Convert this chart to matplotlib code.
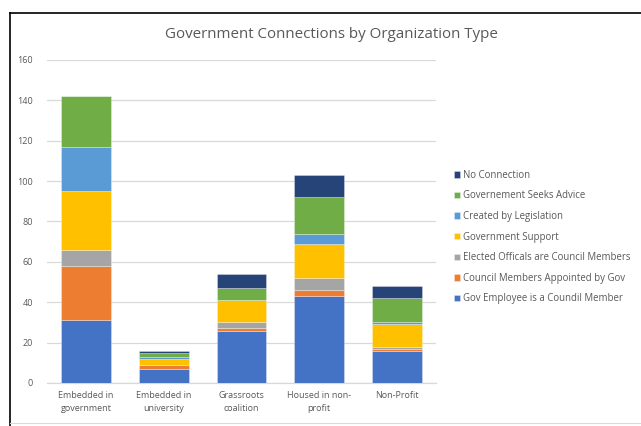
import matplotlib
matplotlib.use("Agg")
import matplotlib.pyplot as plt
from matplotlib.lines import Line2D
import numpy as np

categories = ["Embedded in\ngovernment", "Embedded in\nuniversity", "Grassroots\ncoalition",
              "Housed in non-\nprofit", "Non-Profit"]
series_names = ["Gov Employee is a Coundil Member", "Council Members Appointed by Gov",
                "Elected Officals are Council Members", "Government Support",
                "Created by Legislation", "Governement Seeks Advice", "No Connection"]
gov_employee = [31, 7, 26, 43, 16]
council_appointed = [27, 2, 1, 3, 1]
elected_officials = [8, 0, 3, 6, 1]
government_support = [29, 3, 11, 17, 11]
created_by_legislation = [22, 1, 0, 5, 1]
seeks_advice = [25, 2, 6, 18, 12]
no_connection = [0, 1, 7, 11, 6]
series_values = [gov_employee, council_appointed, elected_officials, government_support,
                 created_by_legislation, seeks_advice, no_connection]
colors = ["#4472C4", "#ED7D31", "#A5A5A5", "#FFC000", "#5B9BD5", "#70AD47", "#264478"]
y_ticks = [0, 20, 40, 60, 80, 100, 120, 140, 160]

plt.rcParams['font.family'] = ['Open Sans', 'DejaVu Sans']

fig = plt.figure(figsize=(6.41, 4.26), dpi=100)
ax = fig.add_axes([47/641, 1-383/426, 389/641, 323/426])

x = np.arange(len(categories))
bottom = np.zeros(len(categories))
handles = []
for name, vals, c in zip(series_names, series_values, colors):
    vals = np.array(vals, dtype=float)
    b = ax.bar(x, vals, width=0.64, bottom=bottom, color=c, label=name,
               edgecolor=(1, 1, 1, 0.35), linewidth=0.6, zorder=3)
    handles.append(b)
    bottom += vals

ax.set_xlim(-0.5, len(categories) - 0.5)
ax.set_ylim(0, 160)
ax.set_yticks(y_ticks)
ax.set_xticks(x)
ax.set_xticklabels(categories, fontsize=6.5, color="#595959", linespacing=1.5)
ax.tick_params(axis='y', labelsize=6.5, colors="#595959", length=0, pad=10)
ax.tick_params(axis='x', length=0, pad=6)
ax.grid(axis='y', color="#D9D9D9", linewidth=0.9, zorder=0)
for s in ["top", "right", "left"]:
    ax.spines[s].set_visible(False)
ax.spines["bottom"].set_color("#D9D9D9")
ax.spines["bottom"].set_linewidth(0.9)

fig.text(331/641, 1-34/426, "Government Connections by Organization Type",
         ha="center", va="center", fontsize=10.9, color="#595959")

leg = fig.legend(handles[::-1], series_names[::-1], loc="upper left",
                 bbox_to_anchor=(450/641, 1-166/426), frameon=False,
                 fontsize=6.9, labelcolor="#595959", handlelength=0.65, handleheight=0.65,
                 handletextpad=0.3, labelspacing=1.0, borderaxespad=0)

fig.add_artist(Line2D([10/641, 1.0], [1-13/426, 1-13/426], color="black", linewidth=1.2,
                      transform=fig.transFigure))
fig.add_artist(Line2D([10/641, 10/641], [0, 1-13/426], color="black", linewidth=1.2,
                      transform=fig.transFigure))
fig.add_artist(Line2D([10/641, 1.0], [1-423/426, 1-423/426], color="#D9D9D9", linewidth=0.8,
                      transform=fig.transFigure))

fig.savefig("out.png", dpi=100)
